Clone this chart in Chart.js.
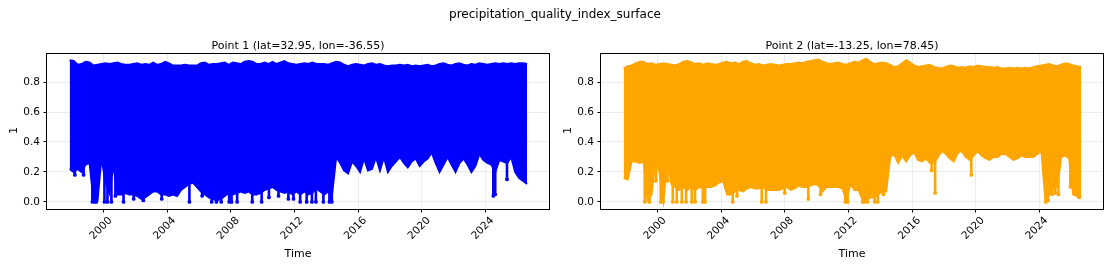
<!DOCTYPE html>
<html><head><meta charset="utf-8">
<script src="https://cdn.jsdelivr.net/npm/chart.js@4.4.1/dist/chart.umd.min.js"></script>
<style>
html,body{margin:0;padding:0;background:#fff;}
body{width:1110px;height:266px;position:relative;overflow:hidden;font-family:"DejaVu Sans",sans-serif;color:#000;}
canvas{position:absolute;top:0;}
.t{position:absolute;white-space:nowrap;line-height:1;}
</style></head><body>
<canvas id="c1" width="556" height="266" style="left:0px;width:556px;height:266px"></canvas>
<canvas id="c2" width="554" height="266" style="left:556px;width:554px;height:266px"></canvas>
<div class="t" style="left:0;width:1110px;text-align:center;top:8px;font-size:12px;">precipitation_quality_index_surface</div>
<div class="t" style="left:47px;width:502px;text-align:center;top:40px;font-size:11px;">Point 1 (lat=32.95, lon=-36.55)</div>
<div class="t" style="left:601px;width:502px;text-align:center;top:40px;font-size:11px;">Point 2 (lat=-13.25, lon=78.45)</div>
<div class="t" style="left:47px;width:502px;text-align:center;top:248px;font-size:11px;">Time</div>
<div class="t" style="left:601px;width:502px;text-align:center;top:248px;font-size:11px;">Time</div>
<div class="t" style="left:10px;top:125px;font-size:11px;transform:rotate(-90deg);">1</div>
<div class="t" style="left:564px;top:125px;font-size:11px;transform:rotate(-90deg);">1</div>
<script>
// decimal years of the sampling grid (quarterly envelope of the daily series)
const years = [1997.875, 1998.125, 1998.375, 1998.625, 1998.875, 1999.125, 1999.375, 1999.625,
 1999.875, 2000.125, 2000.375, 2000.625, 2000.875, 2001.125, 2001.375, 2001.625,
 2001.875, 2002.125, 2002.375, 2002.625, 2002.875, 2003.125, 2003.375, 2003.625,
 2003.875, 2004.125, 2004.375, 2004.625, 2004.875, 2005.125, 2005.375, 2005.625,
 2005.875, 2006.125, 2006.375, 2006.625, 2006.875, 2007.125, 2007.375, 2007.625,
 2007.875, 2008.125, 2008.375, 2008.625, 2008.875, 2009.125, 2009.375, 2009.625,
 2009.875, 2010.125, 2010.375, 2010.625, 2010.875, 2011.125, 2011.375, 2011.625,
 2011.875, 2012.125, 2012.375, 2012.625, 2012.875, 2013.125, 2013.375, 2013.625,
 2013.875, 2014.125, 2014.375, 2014.625, 2014.875, 2015.125, 2015.375, 2015.625,
 2015.875, 2016.125, 2016.375, 2016.625, 2016.875, 2017.125, 2017.375, 2017.625,
 2017.875, 2018.125, 2018.375, 2018.625, 2018.875, 2019.125, 2019.375, 2019.625,
 2019.875, 2020.125, 2020.375, 2020.625, 2020.875, 2021.125, 2021.375, 2021.625,
 2021.875, 2022.125, 2022.375, 2022.625, 2022.875, 2023.125, 2023.375, 2023.625,
 2023.875, 2024.125, 2024.375, 2024.625, 2024.875, 2025.125, 2025.375, 2025.625,
 2025.875, 2026.125, 2026.375, 2026.625];

// Point 1: upper and lower envelope
const p1Upper = [0.945, 0.94, 0.915, 0.92, 0.935, 0.93, 0.91, 0.915,
 0.92, 0.925, 0.92, 0.925, 0.93, 0.92, 0.915, 0.915,
 0.92, 0.925, 0.915, 0.92, 0.915, 0.93, 0.915, 0.92,
 0.935, 0.925, 0.91, 0.91, 0.91, 0.915, 0.91, 0.91,
 0.91, 0.925, 0.93, 0.915, 0.92, 0.92, 0.925, 0.93,
 0.915, 0.93, 0.925, 0.92, 0.935, 0.94, 0.935, 0.92,
 0.92, 0.93, 0.92, 0.935, 0.92, 0.93, 0.94, 0.925,
 0.92, 0.915, 0.92, 0.925, 0.92, 0.93, 0.92, 0.92,
 0.92, 0.915, 0.925, 0.935, 0.93, 0.915, 0.905, 0.915,
 0.92, 0.915, 0.91, 0.92, 0.925, 0.915, 0.92, 0.91,
 0.905, 0.91, 0.91, 0.915, 0.91, 0.915, 0.905, 0.91,
 0.905, 0.91, 0.915, 0.905, 0.91, 0.92, 0.925, 0.915,
 0.91, 0.92, 0.925, 0.915, 0.91, 0.92, 0.915, 0.925,
 0.92, 0.915, 0.92, 0.925, 0.92, 0.925, 0.92, 0.925,
 0.92, 0.925, 0.925, 0.92];
const p1Lower = [0.22, 0.2, 0.22, 0.2, 0.25, 0.26, 0.01, 0.01,
 0.3, 0.13, 0.06, 0.25, 0.05, 0.05, 0.06, 0.05,
 0.05, 0.04, 0.02, 0.03, 0.05, 0.07, 0.07, 0.05,
 0.05, 0.04, 0.05, 0.04, 0.08, 0.1, 0.12, 0.13,
 0.1, 0.07, 0.05, 0.03, 0.02, 0.01, 0.02, 0.04,
 0.06, 0.05, 0.06, 0.07, 0.06, 0.07, 0.05, 0.05,
 0.06, 0.08, 0.09, 0.1, 0.08, 0.07, 0.06, 0.07,
 0.05, 0.07, 0.05, 0.07, 0.05, 0.06, 0.09, 0.07,
 0.05, 0.07, 0.06, 0.3, 0.26, 0.21, 0.19, 0.27,
 0.24, 0.2, 0.29, 0.21, 0.22, 0.3, 0.21, 0.3,
 0.2, 0.24, 0.27, 0.3, 0.26, 0.23, 0.27, 0.29,
 0.24, 0.27, 0.29, 0.33, 0.26, 0.2, 0.25, 0.3,
 0.25, 0.2, 0.26, 0.29, 0.25, 0.2, 0.24, 0.32,
 0.28, 0.26, 0.25, 0.2, 0.28, 0.27, 0.26, 0.3,
 0.2, 0.16, 0.14, 0.12];
// Point 1: isolated low excursions (year, lowest value)
const p1SpikeYears = [1998.2, 1998.75, 1999.3, 1999.45, 1999.55, 2000.06, 2000.25, 2000.5, 2000.75, 2001.26,
 2001.9, 2002.5, 2003.66, 2005.4, 2006.2, 2006.8, 2007.1, 2007.4, 2007.9, 2008.05,
 2008.4, 2009.35, 2009.94, 2010.4, 2011.0, 2011.62, 2011.94, 2012.36, 2012.77, 2013.1,
 2013.35, 2013.82, 2014.2, 2014.35, 2024.5, 2024.62, 2025.36];
const p1SpikeLows = [0.18, 0.18, 0.0, 0.0, 0.0, 0.0, 0.0, 0.0, 0.04, 0.0,
 0.02, 0.01, 0.02, 0.0, 0.04, 0.0, 0.0, 0.0, 0.0, 0.0,
 0.0, 0.0, 0.0, 0.03, 0.04, 0.02, 0.02, 0.0, 0.0, 0.0,
 0.0, 0.0, 0.0, 0.0, 0.04, 0.05, 0.15];

// Point 2: upper and lower envelope
const p2Upper = [0.89, 0.905, 0.91, 0.925, 0.935, 0.935, 0.92, 0.925,
 0.915, 0.92, 0.925, 0.92, 0.915, 0.91, 0.92, 0.935,
 0.94, 0.93, 0.92, 0.925, 0.915, 0.925, 0.92, 0.915,
 0.92, 0.93, 0.935, 0.925, 0.93, 0.92, 0.935, 0.94,
 0.925, 0.915, 0.92, 0.91, 0.915, 0.92, 0.915, 0.91,
 0.915, 0.92, 0.92, 0.925, 0.93, 0.925, 0.935, 0.94,
 0.945, 0.95, 0.935, 0.925, 0.92, 0.925, 0.93, 0.92,
 0.915, 0.925, 0.935, 0.93, 0.945, 0.955, 0.935, 0.92,
 0.925, 0.93, 0.925, 0.915, 0.9, 0.905, 0.925, 0.945,
 0.93, 0.91, 0.9, 0.905, 0.91, 0.915, 0.9, 0.895,
 0.89, 0.9, 0.91, 0.905, 0.895, 0.9, 0.895, 0.905,
 0.9, 0.91, 0.905, 0.9, 0.9, 0.895, 0.9, 0.89,
 0.89, 0.895, 0.89, 0.895, 0.89, 0.895, 0.89, 0.9,
 0.905, 0.91, 0.915, 0.92, 0.91, 0.905, 0.915, 0.925,
 0.92, 0.91, 0.905, 0.9];
const p2Lower = [0.16, 0.15, 0.27, 0.27, 0.26, 0.27, 0.01, 0.05,
 0.28, 0.2, 0.01, 0.27, 0.12, 0.1, 0.08, 0.1,
 0.08, 0.1, 0.08, 0.1, 0.09, 0.1, 0.1, 0.11,
 0.13, 0.14, 0.05, 0.05, 0.07, 0.08, 0.07, 0.09,
 0.1, 0.09, 0.09, 0.1, 0.08, 0.08, 0.08, 0.08,
 0.09, 0.1, 0.08, 0.09, 0.11, 0.1, 0.1, 0.11,
 0.12, 0.11, 0.07, 0.1, 0.1, 0.1, 0.1, 0.09,
 0.01, 0.12, 0.08, 0.08, 0.02, 0.01, 0.03, 0.03,
 0.05, 0.07, 0.07, 0.3, 0.32, 0.26, 0.31, 0.27,
 0.31, 0.33, 0.28, 0.27, 0.29, 0.26, 0.26, 0.3,
 0.34, 0.32, 0.29, 0.27, 0.33, 0.34, 0.3, 0.28,
 0.31, 0.34, 0.31, 0.29, 0.28, 0.3, 0.3, 0.32,
 0.32, 0.3, 0.28, 0.29, 0.31, 0.3, 0.3, 0.3,
 0.32, 0.34, 0.02, 0.05, 0.09, 0.1, 0.3, 0.31,
 0.29, 0.05, 0.04, 0.03];
const p2SpikeYears = [1999.2, 1999.5, 1999.9, 2000.2, 2000.35, 2000.63, 2000.96, 2001.21, 2001.53, 2001.8,
 2002.15, 2002.36, 2002.85, 2002.99, 2004.73, 2005.0, 2006.55, 2006.82, 2008.0, 2009.48,
 2010.25, 2011.8, 2011.95, 2012.9, 2013.0, 2013.2, 2013.65, 2013.85, 2014.2, 2017.23,
 2017.45, 2019.72, 2024.4, 2024.55, 2024.8, 2025.0, 2025.2, 2025.95, 2026.5];
const p2SpikeLows = [0.0, 0.0, 0.14, 0.0, 0.0, 0.14, 0.0, 0.0, 0.0, 0.0,
 0.0, 0.0, 0.0, 0.0, 0.0, 0.04, 0.0, 0.0, 0.06, 0.02,
 0.05, 0.0, 0.0, 0.0, 0.0, 0.0, 0.0, 0.0, 0.05, 0.21,
 0.06, 0.18, 0.0, 0.01, 0.05, 0.06, 0.05, 0.1, 0.03];

const xTickYears = [2000, 2004, 2008, 2012, 2016, 2020, 2024];
const yTickValues = [0.0, 0.2, 0.4, 0.6, 0.8];

const FONT = 'DejaVu Sans';
const spines = {
  id: 'spines',
  afterDraw(chart) {
    const a = chart.chartArea, ctx = chart.ctx;
    ctx.save();
    ctx.strokeStyle = '#000';
    ctx.lineWidth = 1;
    ctx.strokeRect(Math.round(a.left) - 0.5, Math.round(a.top) - 0.5,
      Math.round(a.right - a.left) + 1, Math.round(a.bottom - a.top) + 1);
    ctx.restore();
  }
};

function makeChart(id, upper, lower, spYears, spLows, color, areaLeft, canvasW, areaRight) {
  const spikeData = [];
  spYears.forEach((t, k) => {
    spikeData.push({x: t, y: 0.5}, {x: t, y: spLows[k]}, {x: t, y: null});
  });
  new Chart(document.getElementById(id), {
    type: 'line',
    data: {
      datasets: [
        {data: years.map((t, i) => ({x: t, y: upper[i]})), borderColor: color, borderWidth: 2,
         pointRadius: 0, fill: false, tension: 0},
        {data: years.map((t, i) => ({x: t, y: lower[i]})), borderColor: color, borderWidth: 2,
         pointRadius: 0, fill: '-1', backgroundColor: color, tension: 0},
        {data: spikeData, borderColor: color, borderWidth: 2.6, pointRadius: 0, spanGaps: false, fill: false},
        {data: spYears.map((t, k) => ({x: t, y: spLows[k]})), showLine: false, pointRadius: 1.9,
         pointBackgroundColor: color, pointBorderWidth: 0, fill: false}
      ]
    },
    options: {
      responsive: false,
      devicePixelRatio: 1,
      animation: false,
      events: [],
      layout: {padding: {left: 0, right: canvasW - areaRight, top: 54, bottom: 0}},
      plugins: {legend: {display: false}, tooltip: {enabled: false}, title: {display: false}},
      scales: {
        x: {
          type: 'linear', min: 1996.45, max: 2028.0,
          afterBuildTicks: s => { s.ticks = xTickYears.map(v => ({value: v})); },
          afterFit: s => { s.height = 57; },
          grid: {color: 'rgba(176,176,176,0.3)', lineWidth: 0.8, tickColor: '#000', tickWidth: 1, tickLength: 3.5, drawTicks: true},
          border: {display: false},
          ticks: {callback: v => String(v), minRotation: 45, maxRotation: 45, autoSkip: false,
                  font: {family: FONT, size: 10.5}, color: '#000', padding: 2, labelOffset: 7}
        },
        y: {
          type: 'linear', min: -0.047, max: 0.987,
          afterBuildTicks: s => { s.ticks = yTickValues.map(v => ({value: v})); },
          afterFit: s => { s.width = areaLeft; },
          grid: {color: 'rgba(176,176,176,0.3)', lineWidth: 0.8, tickColor: '#000', tickWidth: 1, tickLength: 3.5, drawTicks: true},
          border: {display: false},
          ticks: {callback: v => Number(v).toFixed(1), font: {family: FONT, size: 10.5}, color: '#000', padding: 3.5}
        }
      }
    },
    plugins: [spines]
  });
}

makeChart('c1', p1Upper, p1Lower, p1SpikeYears, p1SpikeLows, '#0000ff', 47, 556, 549);
makeChart('c2', p2Upper, p2Lower, p2SpikeYears, p2SpikeLows, '#ffa500', 45, 554, 547);
</script>
</body></html>
